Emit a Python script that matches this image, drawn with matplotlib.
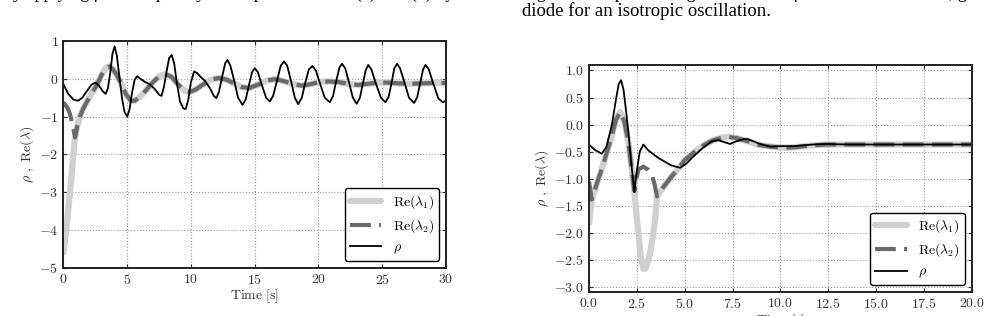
import matplotlib
matplotlib.use('Agg')
import matplotlib.pyplot as plt
from matplotlib.ticker import FuncFormatter, MultipleLocator

matplotlib.rcParams['mathtext.fontset'] = 'cm'
matplotlib.rcParams['font.family'] = ['Liberation Serif', 'DejaVu Serif']

# ---- left panel (a) ----
t_rho_a = [0, 0.4, 0.8, 1.15, 1.5, 1.9, 2.2, 2.5, 2.8, 3.1, 3.32, 3.5, 3.7, 3.85,
           4.02, 4.2, 4.4, 4.6, 4.8, 5.02, 5.2, 5.4, 5.6, 5.8, 6.05, 6.4, 6.8,
           7.2, 7.5, 7.7, 7.9, 8.1, 8.3, 8.5, 8.7, 8.9, 9.15, 9.4, 9.6, 9.8,
           10.0, 10.26, 10.5, 10.8, 11.1, 11.5, 11.8, 12.0, 12.2, 12.45, 12.7,
           12.87, 13.1, 13.4, 13.7, 14.05, 14.3, 14.6, 14.8, 15.01, 15.25, 15.6,
           15.9, 16.19, 16.45, 16.75, 17.05, 17.31, 17.55, 17.85, 18.15, 18.41,
           18.7, 18.97, 19.25, 19.53, 19.8, 20.15, 20.5, 20.89, 21.15, 21.4,
           21.65, 21.85, 22.1, 22.4, 22.7, 23.0, 23.25, 23.5, 23.7, 23.9, 24.15,
           24.5, 24.9, 25.25, 25.5, 25.75, 25.95, 26.17, 26.4, 26.75, 27.1, 27.5,
           27.75, 28.0, 28.2, 28.4, 28.65, 29.0, 29.4, 29.75, 30]
rho_a = [-0.14, -0.40, -0.55, -0.58, -0.50, -0.30, -0.16, -0.10, -0.18, -0.33,
         -0.40, -0.25, 0.20, 0.65, 0.86, 0.62, 0.05, -0.50, -0.88, -1.00, -0.80,
         -0.35, -0.02, 0.07, 0.0, -0.08, -0.15, -0.28, -0.42, -0.45, -0.20, 0.20,
         0.55, 0.63, 0.40, -0.10, -0.60, -0.78, -0.80, -0.55, -0.10, 0.20, 0.15,
         0.04, -0.05, -0.25, -0.45, -0.51, -0.35, 0.05, 0.42, 0.50, 0.35, -0.05,
         -0.50, -0.69, -0.55, -0.10, 0.18, 0.28, 0.18, -0.20, -0.50, -0.60,
         -0.45, -0.05, 0.35, 0.46, 0.35, -0.05, -0.50, -0.67, -0.50, -0.10, 0.25,
         0.34, 0.22, -0.15, -0.50, -0.62, -0.45, -0.05, 0.30, 0.40, 0.28, -0.10,
         -0.50, -0.66, -0.50, -0.10, 0.22, 0.37, 0.25, -0.12, -0.50, -0.62,
         -0.48, -0.08, 0.28, 0.40, 0.28, -0.10, -0.50, -0.64, -0.48, -0.08, 0.25,
         0.37, 0.25, -0.12, -0.52, -0.62, -0.58]

t_re2_a = [0, 0.15, 0.35, 0.52, 0.7, 0.85, 0.93, 1.1, 1.31, 1.55, 1.83, 2.2,
           2.61, 3.0, 3.3, 3.6, 3.9, 4.2, 4.5, 4.9, 5.3, 5.6, 6.0, 6.5, 7.0, 7.5,
           8.0, 8.5, 9.0, 9.5, 9.9, 10.4, 11.0, 11.6, 12.2, 12.8, 13.5, 14.0,
           14.6, 15.3, 16.0, 16.6, 17.3, 18.0, 18.7, 19.4, 20.1, 20.8, 21.5, 22.3,
           23.1, 23.9, 24.7, 25.5, 26.3, 27.2, 28.1, 29.0, 30]
re2_a = [-0.62, -0.68, -0.78, -0.92, -1.18, -1.42, -1.55, -1.25, -1.0, -0.80,
         -0.62, -0.40, -0.18, 0.10, 0.28, 0.33, 0.25, 0.10, -0.10, -0.40, -0.58,
         -0.58, -0.48, -0.30, -0.10, 0.06, 0.13, 0.05, -0.15, -0.31, -0.35,
         -0.28, -0.14, -0.02, 0.02, -0.02, -0.14, -0.22, -0.24, -0.15, -0.04,
         -0.01, -0.06, -0.14, -0.18, -0.14, -0.08, -0.07, -0.08, -0.13, -0.16,
         -0.13, -0.10, -0.10, -0.12, -0.13, -0.12, -0.11, -0.11]

# Re(lambda_1) only differs from Re(lambda_2) before t ~ 0.93 s
t_re1_a_head = [0, 0.2, 0.39, 0.55, 0.66, 0.78, 0.86]
re1_a_head = [-4.6, -4.1, -3.47, -2.9, -2.54, -2.05, -1.72]
t_re1_a = t_re1_a_head + t_re2_a[6:]
re1_a = re1_a_head + re2_a[6:]

# ---- right panel (b) ----
t_rho_b = [0, 0.3, 0.66, 0.9, 1.18, 1.4, 1.55, 1.67, 1.8, 1.95, 2.06, 2.2, 2.37,
           2.5, 2.65, 2.84, 3.1, 3.62, 4.32, 4.76, 5.1, 5.37, 5.89, 6.41, 6.76,
           7.1, 7.37, 7.7, 8.1, 8.3, 8.94, 9.46, 10.0, 10.7, 11.7, 12.4, 13.5,
           15, 17, 20]
rho_b = [-0.37, -0.47, -0.54, -0.42, -0.03, 0.45, 0.75, 0.82, 0.65, 0.20, -0.15,
         -0.70, -1.25, -0.85, -0.50, -0.37, -0.48, -0.62, -0.76, -0.80, -0.72,
         -0.62, -0.45, -0.31, -0.29, -0.33, -0.36, -0.31, -0.27, -0.27, -0.36,
         -0.41, -0.40, -0.40, -0.37, -0.36, -0.37, -0.37, -0.37, -0.37]

t_re2_b = [0, 0.14, 0.4, 0.66, 0.9, 1.18, 1.4, 1.62, 1.85, 2.06, 2.2, 2.37, 2.48,
           2.58, 2.84, 3.1, 3.28, 3.42, 3.55, 3.9, 4.32, 4.7, 5.02, 5.54, 6.0,
           6.5, 7.0, 7.3, 7.7, 8.2, 8.9, 9.5, 10.3, 10.8, 11.5, 12.4, 14, 16,
           18, 20]
re2_b = [-1.05, -1.39, -1.10, -0.83, -0.55, -0.22, 0.08, 0.23, 0.05, -0.34,
         -0.75, -1.23, -1.0, -0.83, -0.78, -0.84, -0.93, -1.10, -1.33, -1.15,
         -0.96, -0.80, -0.65, -0.50, -0.38, -0.29, -0.24, -0.23, -0.25, -0.30,
         -0.38, -0.41, -0.43, -0.42, -0.39, -0.37, -0.37, -0.37, -0.37, -0.37]

t_re1_b = [0, 0.07, 0.14, 0.4, 0.66, 0.9, 1.18, 1.4, 1.62, 1.85, 2.06, 2.2, 2.37,
           2.48, 2.58, 2.7, 2.84, 2.95, 3.1, 3.19, 3.32, 3.45, 3.55, 3.9, 4.32,
           4.7, 5.02, 5.54, 6.0, 6.5, 7.0, 7.3, 7.7, 8.2, 8.9, 9.5, 10.3, 10.8,
           11.5, 12.4, 14, 16, 18, 20]
re1_b = [-1.82, -1.6, -1.39, -1.10, -0.83, -0.55, -0.22, 0.08, 0.23, 0.05, -0.34,
         -0.75, -1.23, -1.7, -2.0, -2.45, -2.67, -2.67, -2.5, -2.38, -2.1, -1.76,
         -1.33, -1.15, -0.96, -0.80, -0.65, -0.50, -0.38, -0.29, -0.24, -0.23,
         -0.25, -0.30, -0.38, -0.41, -0.43, -0.42, -0.39, -0.37, -0.37, -0.37,
         -0.37, -0.37]

labels = [r'$\mathrm{Re}(\lambda_1)$', r'$\mathrm{Re}(\lambda_2)$', r'$\rho$']
tick_size = 10


def draw_panel(ax, t1, r1, t2, r2, t3, r3, xlim, ylim, xstep, ystep, fmt):
    ax.plot(t1, r1, color='#d0d0d0', linewidth=4.5, label=labels[0],
            solid_capstyle='round')
    ax.plot(t2, r2, color='#6a6a6a', linewidth=3, dashes=(5, 2),
            label=labels[1])
    ax.plot(t3, r3, color='black', linewidth=1.3, label=labels[2])
    ax.set_xlim(xlim)
    ax.set_ylim(ylim)
    ax.xaxis.set_major_locator(MultipleLocator(xstep))
    ax.yaxis.set_major_locator(MultipleLocator(ystep))
    ax.xaxis.set_major_formatter(FuncFormatter(lambda v, p: '$' + fmt.format(v) + '$'))
    ax.yaxis.set_major_formatter(FuncFormatter(lambda v, p: '$' + fmt.format(v) + '$'))
    ax.grid(True, color='#999999', linestyle=':', linewidth=0.8)
    ax.tick_params(direction='in', labelsize=tick_size, top=True, right=True,
                   length=3, colors='#333333', labelcolor='#333333')
    for s in ax.spines.values():
        s.set_linewidth(1.4)
        s.set_color('#222222')
    ax.set_xlabel(r'$\mathrm{Time\ [s]}$', fontsize=tick_size, labelpad=1,
                  color='#333333')
    ax.set_ylabel(r'$\rho\ ,\ \mathrm{Re}(\lambda)$', fontsize=tick_size,
                  labelpad=2, color='#333333')
    leg = ax.legend(loc='lower right', fontsize=tick_size, fancybox=True,
                    framealpha=1, edgecolor='black', handlelength=2.3,
                    borderpad=0.35, labelspacing=0.45)
    leg.get_frame().set_linewidth(1.0)


fig = plt.figure(figsize=(9.9, 3.16), dpi=100)

ax1 = fig.add_axes([0.0639, 0.153, 0.3866, 0.717])
draw_panel(ax1, t_re1_a, re1_a, t_re2_a, re2_a, t_rho_a, rho_a,
           (0, 30), (-5, 1), 5, 1, '{:g}')

ax2 = fig.add_axes([0.595, 0.076, 0.3866, 0.718])
draw_panel(ax2, t_re1_b, re1_b, t_re2_b, re2_b, t_rho_b, rho_b,
           (0, 20), (-3.1, 1.1), 2.5, 0.5, '{:.1f}')

# caption lines of the surrounding page, cut by the top edge as in the scan
fig.text(0.004, 0.994, 'by applying ρ_2 and p_3 dynamic parameters in (a) and (b) by',
         fontsize=13, va='bottom', ha='left')
fig.text(0.527, 0.994, 'Fig. 4.  Real parts of eigenvalues and ρ for the tunnel diode, giving',
         fontsize=13, va='bottom', ha='left')
fig.text(0.527, 0.949, 'diode for an isotropic oscillation.', fontsize=13.5,
         va='baseline', ha='left')

fig.savefig('out.png', dpi=100)
